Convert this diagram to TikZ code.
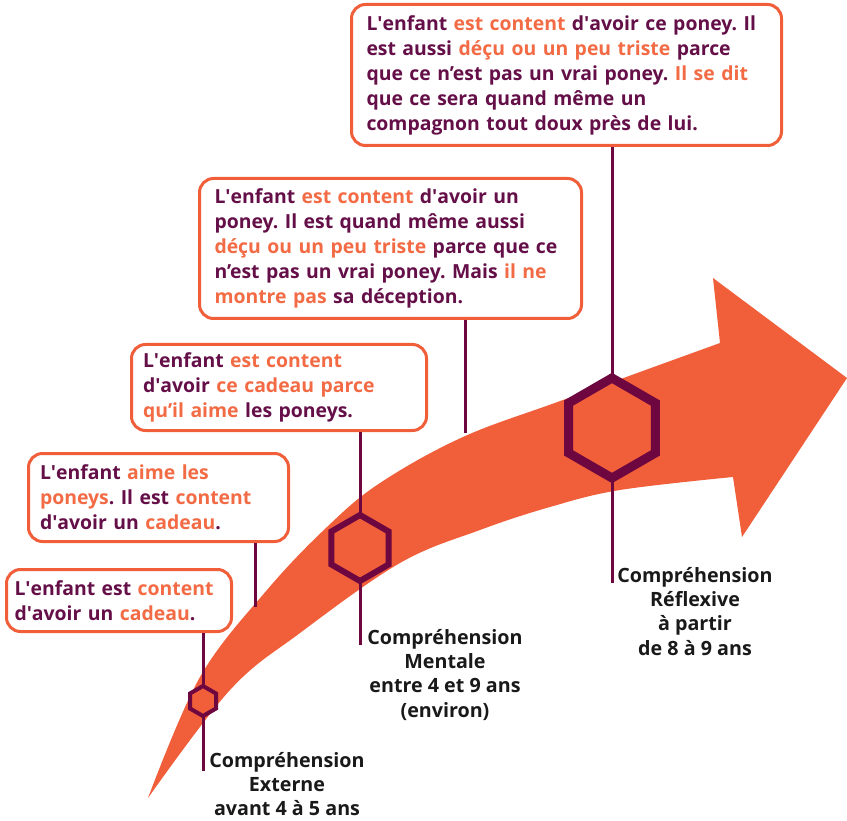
\documentclass[tikz,border=0pt]{standalone}
\usepackage{fontspec}
\setmainfont{Open Sans}
\usetikzlibrary{calc}
\definecolor{arrowc}{HTML}{F05E3A}
\definecolor{hlc}{HTML}{F26B45}
\definecolor{txtc}{HTML}{650F48}
\definecolor{plum}{HTML}{6E0640}
\newcommand{\orng}[1]{\textcolor{hlc}{#1}}
\newcommand{\ap}{\textquotesingle}
\begin{document}
\frenchspacing
\begin{tikzpicture}[x=1pt,y=-1pt,
  box/.style={draw=arrowc, line width=3pt, rounded corners=14pt, fill=white,
    text=txtc, align=left, anchor=north west, inner ysep=0pt,
    font=\bfseries\fontsize{19.4}{25}\selectfont},
  lab/.style={align=center, anchor=north, inner sep=0pt, text=black!90,
    font=\bfseries\fontsize{19.7}{24.3}\selectfont},
  hexa/.style={draw=plum, line join=miter},
  stem/.style={draw=plum, line width=3pt}
]
\useasboundingbox (0,0) rectangle (847,821);

% curved arrow
\fill[arrowc] (148,798)
  -- plot[smooth, tension=0.6] coordinates {(148,798) (200,677) (267,590) (327,527) (380,483) (463,437) (563,400) (720,343)}
  -- (713,278) -- (847,378) -- (742,537) -- (733,477)
  -- plot[smooth, tension=0.6] coordinates {(733,477) (620,490) (550,507) (480,530) (400,563) (300,633) (230,690) (148,798)}
  -- cycle;

% hexagon vertex coordinates
\coordinate (H1t) at (203,686);
\coordinate (H1b) at (203,716);
\coordinate (H2t) at (360,515);
\coordinate (H2b) at (360,581);
\coordinate (H3t) at (612,378);
\coordinate (H3b) at (612,478);

% stem ends
\coordinate (E1) at (203,771);
\coordinate (E2) at (255,607);
\coordinate (E3) at (360,645);
\coordinate (E4) at (465,433);
\coordinate (E5) at (612,583);

% boxes
\node[box, minimum width=223pt, minimum height=62pt, text width=209pt, inner xsep=8pt] (B1) at (5,568)
  {L\ap enfant est \orng{content}\\d\ap avoir un \orng{cadeau}.};
\node[box, minimum width=260pt, minimum height=88pt, text width=237pt, inner xsep=11pt] (B2) at (27,452)
  {L\ap enfant \orng{aime les}\\\orng{poneys}. Il est \orng{content}\\d\ap avoir un \orng{cadeau}.};
\node[box, minimum width=295pt, minimum height=86pt, text width=272pt, inner xsep=11pt] (B3) at (130,343)
  {L\ap enfant \orng{est content}\\d\ap avoir \orng{ce cadeau parce}\\\orng{qu’il aime} les poneys.};
\node[box, minimum width=382pt, minimum height=140pt, text width=352pt, inner xsep=14pt] (B4) at (198,177)
  {L\ap enfant \orng{est content} d\ap avoir un\\poney. Il est quand même aussi\\\orng{déçu ou un peu triste} parce que ce\\n’est pas un vrai poney. Mais \orng{il ne}\\\orng{montre pas} sa déception.};
\node[box, minimum width=430pt, minimum height=141pt, text width=400pt, inner xsep=14pt] (B5) at (350,3)
  {L\ap enfant \orng{est content} d\ap avoir ce poney. Il\\est aussi \orng{déçu ou un peu triste} parce\\que ce n’est pas un vrai poney. \orng{Il se dit}\\que ce sera quand même un\\compagnon tout doux près de lui.};

% stems
\draw[stem] (B1.south -| H1t) -- (H1t);
\draw[stem] (H1b) -- (E1);
\draw[stem] (B2.south -| E2) -- (E2);
\draw[stem] (B3.south -| H2t) -- (H2t);
\draw[stem] (H2b) -- (E3);
\draw[stem] (B4.south -| E4) -- (E4);
\draw[stem] (B5.south -| H3t) -- (H3t);
\draw[stem] (H3b) -- (E5);

% hexagons
\draw[hexa, line width=4pt] (H1t) -- (216,693.5) -- (216,708.5) -- (H1b) -- (190,708.5) -- (190,693.5) -- cycle;
\draw[hexa, line width=6pt] (H2t) -- (388.6,531.5) -- (388.6,564.5) -- (H2b) -- (331.4,564.5) -- (331.4,531.5) -- cycle;
\draw[hexa, line width=9pt] (H3t) -- (655.3,403) -- (655.3,453) -- (H3b) -- (568.7,453) -- (568.7,403) -- cycle;

% labels
\node[lab] (L1) at (287,752) {Compréhension\\Externe\\avant 4 à 5 ans};
\node[lab] (L2) at (445,629) {Compréhension\\Mentale\\entre 4 et 9 ans\\(environ)};
\node[lab] (L3) at (695,567) {Compréhension\\Réflexive\\à partir\\de 8 à 9 ans};
\end{tikzpicture}
\end{document}
